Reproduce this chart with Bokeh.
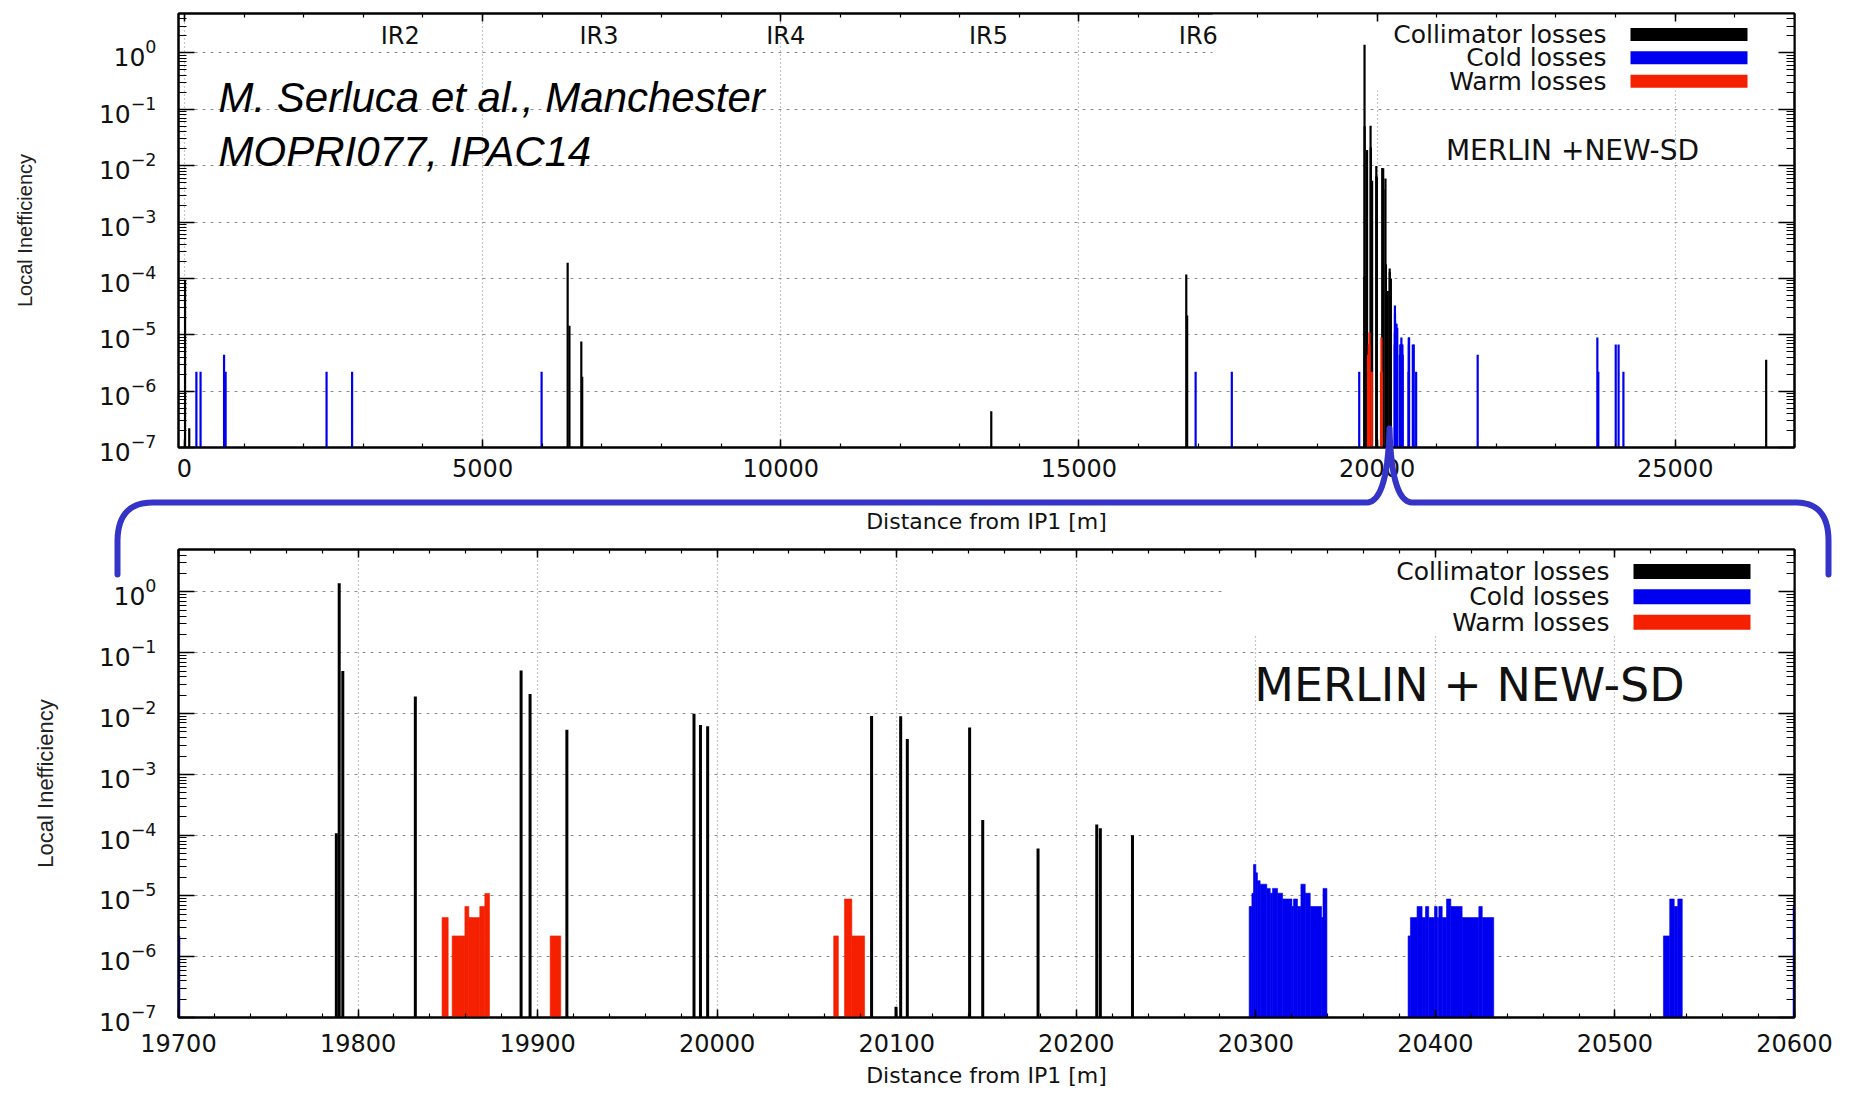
import numpy as np
from bokeh.plotting import figure
from bokeh.layouts import column, row
from bokeh.models import (Range1d, FixedTicker, LinearAxis, Label, BoxAnnotation)
from bokeh.embed import file_html
from bokeh.resources import INLINE

# ---------------------------------------------------------------- data
# Whole ring (distance from IP1 [m], local inefficiency), outside the zoom window
ring_coll_s = [10, 80, 6426, 6456, 6655, 6670, 13530, 16800, 16815, 26525]
ring_coll_v = [9.0e-5, 2.2e-7, 1.9e-4, 1.45e-5, 7.6e-6, 1.8e-6, 4.4e-7, 1.17e-4, 2.2e-5, 3.6e-6]
ring_cold_s = [200, 270, 664, 690, 2383, 2811, 5989, 16957, 17564, 20615, 20655,
               21687, 23694, 23710, 24002, 24050, 24131]
ring_cold_v = [2.2e-6, 2.2e-6, 4.4e-6, 2.2e-6, 2.2e-6, 2.2e-6, 2.2e-6, 2.2e-6, 2.2e-6, 6.7e-6, 2.2e-6,
               4.4e-6, 8.9e-6, 2.2e-6, 6.7e-6, 6.7e-6, 2.2e-6]

# Betatron cleaning insertion, 19700 - 20600 m
coll_s = [19787.9, 19789.5, 19791.5, 19831.9, 19890.8, 19895.8, 19916.3, 19987.1, 19990.7,
          19994.7, 20086.0, 20099.6, 20102.2, 20105.9, 20140.6, 20147.9, 20178.7, 20211.4,
          20213.4, 20231.3]
coll_v = [1.07e-4, 1.39, 0.05, 0.019, 0.051, 0.021, 0.0054, 0.0099, 0.0065,
          0.0062, 0.0091, 1.5e-7, 0.009, 0.0038, 0.0059, 1.78e-4, 6.0e-5, 1.5e-4,
          1.3e-4, 1.0e-4]

warm_start = [19846.8, 19852.4, 19859.5, 19861.7, 19867.8, 19870.6, 19907.0, 20064.9, 20070.9, 20075.0]
warm_end = [19850.2, 19859.5, 19861.7, 19867.8, 19870.6, 19873.2, 19912.9, 20067.5, 20075.0, 20082.1]
warm_v = [4.4e-6, 2.2e-6, 6.7e-6, 4.4e-6, 6.7e-6, 1.1e-5, 2.2e-6, 2.2e-6, 8.9e-6, 2.2e-6]

cold_start = [19700.0,
              20296.3, 20297.8, 20298.7, 20300.0, 20300.9, 20302.4, 20306.1, 20308.0, 20309.3,
              20312.1, 20314.9, 20320.1, 20321.0, 20323.2, 20325.1, 20327.5, 20330.3, 20336.6,
              20337.4,
              20384.8, 20386.1, 20389.8, 20392.6, 20394.5, 20396.3, 20399.5, 20401.0, 20401.9,
              20403.8, 20406.2, 20408.6, 20414.9, 20424.2, 20426.1,
              20527.0, 20530.5, 20533.0, 20535.0,
              20599.2]
cold_end = [19700.8,
            20297.8, 20298.7, 20300.0, 20300.9, 20302.4, 20306.1, 20308.0, 20309.3, 20312.1,
            20314.9, 20320.1, 20321.0, 20323.2, 20325.1, 20327.5, 20330.3, 20336.6, 20337.4,
            20339.6,
            20386.1, 20389.8, 20392.6, 20394.5, 20396.3, 20399.5, 20401.0, 20401.9, 20403.8,
            20406.2, 20408.6, 20414.9, 20424.2, 20426.1, 20432.5,
            20530.5, 20533.0, 20535.0, 20537.5,
            20600.0]
cold_v = [2.2e-6,
          6.7e-6, 1.1e-5, 3.3e-5, 2.4e-5, 1.78e-5, 1.56e-5, 1.33e-5, 1.11e-5, 1.33e-5,
          1.11e-5, 8.9e-6, 6.7e-6, 8.9e-6, 6.7e-6, 1.56e-5, 1.11e-5, 6.7e-6, 4.4e-6,
          1.33e-5,
          2.2e-6, 4.4e-6, 6.7e-6, 4.4e-6, 6.7e-6, 4.4e-6, 6.7e-6, 4.4e-6, 6.7e-6,
          4.4e-6, 8.9e-6, 6.7e-6, 4.4e-6, 6.7e-6, 4.4e-6,
          2.2e-6, 8.9e-6, 6.7e-6, 8.9e-6,
          6.7e-6]

ir_names = ["IR2", "IR3", "IR4", "IR5", "IR6"]
ir_label_s = [3619, 6952, 10084, 13484, 17002]

legend_names = ["Collimator losses", "Cold losses", "Warm losses"]

top_xticks = [0, 5000, 10000, 15000, 20000, 25000]
top_xminor = list(range(0, 27001, 1000))
bot_xticks = list(range(19700, 20601, 100))
bot_xminor = list(range(19700, 20601, 20))
y_decades = [10.0 ** k for k in range(-7, 1)]
y_minor = [m * 10.0 ** k for k in range(-7, 1) for m in range(2, 10) if m * 10.0 ** k <= 5.0]

# ---------------------------------------------------------------- style
Y_FLOOR, Y_TOP = 1e-7, 5.0
GNU = "DejaVu Sans"
SANS = "Liberation Sans"
BLACK, BLUE, RED = "#000000", "#0000f0", "#f52000"
BRACKET = "#3434c8"
GRID = "#8c8c8c"
TXT = "#111111"

W = 1860
TOP_H, BOT_H = 540, 555
FRAME_L, FRAME_R = 178, 1794          # shared by both panels (column aligns the frames)
TOP_FRAME = dict(left=FRAME_L, right=FRAME_R, top=13, bottom=447)     # screen pixels
BOT_FRAME = dict(left=FRAME_L, right=FRAME_R, top=549, bottom=1017)


def make_fig(h, y0, frame, xr, xticks, xminor, tick_standoff, ylab_standoff, ylab_size,
             xlab_standoff, xlab_size):
    p = figure(width=W, height=h, x_range=xr, y_range=Range1d(Y_FLOOR, Y_TOP),
               y_axis_type="log", output_backend="svg", toolbar_location=None,
               min_border_left=frame["left"],
               min_border_right=W - frame["right"],
               min_border_top=frame["top"] - y0,
               min_border_bottom=y0 + h - frame["bottom"])
    p.background_fill_color = "white"
    p.border_fill_color = "white"
    p.outline_line_color = BLACK
    p.outline_line_width = 2

    xt = FixedTicker(ticks=xticks, minor_ticks=xminor)
    yt = FixedTicker(ticks=y_decades, minor_ticks=y_minor)
    xa = p.below[0]
    ya = p.left[0]
    xa.ticker = xt
    ya.ticker = yt
    p.xgrid.ticker = xt
    p.ygrid.ticker = yt
    for ax in (xa, ya):
        ax.axis_line_color = BLACK
        ax.axis_line_width = 2
        ax.major_tick_out = 0
        ax.minor_tick_out = 0
        ax.major_label_text_font = GNU
        ax.major_label_text_color = TXT
        ax.major_tick_line_width = 1.5
        ax.minor_tick_line_width = 1.2
    xa.major_tick_in, xa.minor_tick_in = 8, 4
    ya.major_tick_in, ya.minor_tick_in = 16, 8
    xa.major_label_text_font_size = "24px"
    ya.major_label_text_font_size = "25px"
    xa.major_label_standoff = tick_standoff
    ya.major_label_standoff = frame["left"] - 156

    xa.axis_label = "Distance from IP1 [m]"
    xa.axis_label_text_font = GNU
    xa.axis_label_text_font_style = "normal"
    xa.axis_label_text_font_size = xlab_size
    xa.axis_label_text_color = TXT
    xa.axis_label_standoff = xlab_standoff

    ya.axis_label = "Local Inefficiency"
    ya.axis_label_text_font = SANS
    ya.axis_label_text_font_style = "normal"
    ya.axis_label_text_font_size = ylab_size
    ya.axis_label_text_color = "#222222"
    ya.axis_label_standoff = ylab_standoff

    # mirrored ticks on top and right (labels invisible)
    common = dict(major_label_text_font_size="1px", major_label_text_alpha=0.0,
                  major_label_standoff=0, major_tick_out=0, minor_tick_out=0,
                  axis_line_width=2, major_tick_line_width=1.5, minor_tick_line_width=1.2)
    p.add_layout(LinearAxis(ticker=xt, major_tick_in=8, minor_tick_in=4, **common), "above")
    p.add_layout(LinearAxis(ticker=yt, major_tick_in=16, minor_tick_in=8, **common), "right")

    p.xgrid.grid_line_color = GRID
    p.xgrid.grid_line_dash = "1 3"
    p.xgrid.grid_line_width = 1.2
    p.ygrid.grid_line_color = GRID
    p.ygrid.grid_line_dash = "3 5"
    p.ygrid.grid_line_width = 1.2
    return p


def sx(frame, X):
    return float(X - frame["left"])


def sy(frame, Y):
    return float(frame["bottom"] - Y)


def add_text(p, frame, X, Y, text, size, font=GNU, align="center", baseline="middle",
             style="normal", color=TXT):
    p.add_layout(Label(x=sx(frame, X), y=sy(frame, Y), x_units="screen", y_units="screen",
                       text=text, text_font=font, text_font_size=size, text_align=align,
                       text_baseline=baseline, text_font_style=style, text_color=color))


def screen_box(frame, l, r, t, b, color, level="annotation"):
    return BoxAnnotation(left=sx(frame, l), right=sx(frame, r), top=sy(frame, t), bottom=sy(frame, b),
                         left_units="screen", right_units="screen",
                         top_units="screen", bottom_units="screen",
                         fill_color=color, fill_alpha=1.0, line_alpha=0, level=level)


def add_legend(p, frame, box, text_right, sample_l, sample_r, rows, half_h):
    # opaque key area hiding the grid
    p.add_layout(screen_box(frame, box[0], box[1], box[2], box[3], "white", level="underlay"))
    for name, col, Y in zip(legend_names, [BLACK, BLUE, RED], rows):
        add_text(p, frame, text_right, Y, name, "25px", align="right")
        p.add_layout(screen_box(frame, sample_l, sample_r, Y - half_h, Y + half_h, col))


# ---------------------------------------------------------------- top: whole ring
p1 = make_fig(TOP_H, 0, TOP_FRAME, Range1d(-100, 27000), top_xticks, top_xminor,
              tick_standoff=11, ylab_standoff=60, ylab_size="20px",
              xlab_standoff=29, xlab_size="22px")
all_coll_s = ring_coll_s + coll_s
all_coll_v = ring_coll_v + coll_v
cold_mid = [(a + b) / 2 for a, b in zip(cold_start, cold_end)]
warm_mid = [(a + b) / 2 for a, b in zip(warm_start, warm_end)]
all_cold_s = ring_cold_s + cold_mid
all_cold_v = ring_cold_v + cold_v
p1.segment(x0=all_coll_s, y0=Y_FLOOR, x1=all_coll_s, y1=all_coll_v, line_color=BLACK, line_width=2.2)
p1.segment(x0=all_cold_s, y0=Y_FLOOR, x1=all_cold_s, y1=all_cold_v, line_color=BLUE, line_width=2.2)
p1.segment(x0=warm_mid, y0=Y_FLOOR, x1=warm_mid, y1=warm_v, line_color=RED, line_width=2.2)

add_legend(p1, TOP_FRAME, (1212, FRAME_R, 13, 90), 1606, 1630, 1747, [34, 57.3, 80.7], 6.5)
for name, s in zip(ir_names, ir_label_s):
    p1.add_layout(Label(x=s, y=sy(TOP_FRAME, 35), x_units="data", y_units="screen", text=name,
                        text_font=GNU, text_font_size="24px", text_align="center",
                        text_baseline="middle", text_color=TXT))
add_text(p1, TOP_FRAME, 1572, 150, "MERLIN +NEW-SD", "28px")
add_text(p1, TOP_FRAME, 218, 96.7, "M. Serluca et al., Manchester", "42px", font=SANS,
         align="left", baseline="alphabetic", style="italic", color=BLACK)
add_text(p1, TOP_FRAME, 218, 150.7, "MOPRI077, IPAC14", "42px", font=SANS,
         align="left", baseline="alphabetic", style="italic", color=BLACK)

# ---------------------------------------------------------------- bottom: zoom on IR7
p2 = make_fig(BOT_H, TOP_H, BOT_FRAME, Range1d(19700, 20600), bot_xticks, bot_xminor,
              tick_standoff=16, ylab_standoff=38, ylab_size="22px",
              xlab_standoff=8, xlab_size="22px")
p2.segment(x0=coll_s, y0=Y_FLOOR, x1=coll_s, y1=coll_v, line_color=BLACK, line_width=3)
p2.quad(left=cold_start, right=cold_end, bottom=Y_FLOOR, top=cold_v,
        fill_color=BLUE, line_color=BLUE, line_width=0.6)
p2.quad(left=warm_start, right=warm_end, bottom=Y_FLOOR, top=warm_v,
        fill_color=RED, line_color=RED, line_width=0.6)

add_legend(p2, BOT_FRAME, (1222, FRAME_R, 549, 635), 1609, 1633, 1750, [571, 596.2, 621.7], 7.5)
add_text(p2, BOT_FRAME, 1469, 684, "MERLIN + NEW-SD", "46px")

# ---------------------------------------------------------------- zoom bracket overlay
# transparent figure laid over the gap between the panels; its data space is screen pixels
OV_TOP, OV_BOT = 415, 590


def qbez(a, b, c, n=16):
    t = np.linspace(0, 1, n)
    return [((1 - u) ** 2 * a[0] + 2 * (1 - u) * u * b[0] + u ** 2 * c[0],
             (1 - u) ** 2 * a[1] + 2 * (1 - u) * u * b[1] + u ** 2 * c[1]) for u in t]


BR_Y = 502
BR_END = 574
bracket = ([(117, BR_END), (117, 540)] + qbez((117, 540), (117.5, BR_Y), (152, BR_Y)) +
           [(1366, BR_Y)] + qbez((1366, BR_Y), (1387, BR_Y), (1389, 428)) +
           qbez((1389, 428), (1391, BR_Y), (1412, BR_Y)) + [(1796, BR_Y)] +
           qbez((1796, BR_Y), (1828, BR_Y + 0.5), (1828, 540)) + [(1828, BR_END)])

p3 = figure(width=W, height=OV_BOT - OV_TOP,
            x_range=Range1d(0, W), y_range=Range1d(OV_BOT, OV_TOP),
            x_axis_location=None, y_axis_location=None, output_backend="svg",
            toolbar_location=None, min_border_left=0, min_border_right=0,
            min_border_top=0, min_border_bottom=0)
p3.background_fill_alpha = 0
p3.border_fill_alpha = 0
p3.outline_line_color = None
p3.grid.visible = False
p3.line(x=[q[0] for q in bracket], y=[q[1] for q in bracket], line_color=BRACKET,
        line_width=6, line_join="round", line_cap="round")

if "frame_align" in p3.properties():
    p3.frame_align = False
    overlay = p3
else:
    overlay = row(p3)
overlay.styles = {"margin-top": f"-{TOP_H + BOT_H - OV_TOP}px", "pointer-events": "none"}

layout = column(p1, p2, overlay, spacing=0)
open("out.html", "w").write(file_html(layout, INLINE))
